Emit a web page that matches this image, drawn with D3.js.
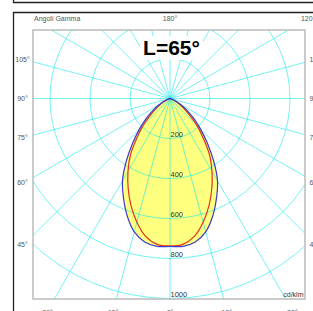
<!DOCTYPE html>
<html>
<head>
<meta charset="utf-8">
<script src="https://cdn.jsdelivr.net/npm/d3@7/dist/d3.min.js"></script>
<style>
    body { margin: 0; background: #fff; }
    svg { display: block; font-family: "Liberation Sans", Arial, sans-serif; }
</style>
</head>
<body>
<div id="chart"></div>
<script>

// gamma angles (deg from nadir) and intensities in cd/klm
var gammaAngles = [0, 5, 10, 15, 20, 25, 30, 35, 40, 45, 50, 55, 60, 65, 70, 75, 80, 85, 90];
var planeBlue = [740, 742, 728, 690, 625, 550, 475, 380, 290, 215, 155, 105, 65, 35, 15, 5, 2, 0, 0];
var planeRed = [737, 732, 700, 640, 570, 495, 420, 345, 258, 190, 125, 80, 50, 25, 10, 3, 0, 0, 0];

var circleValues = [200, 400, 600, 800, 1000];
var spokeAngles = [0, 15, 30, 45, 60, 75, 90, 105, 120, 135, 150, 165,
    180, 195, 210, 225, 240, 255, 270, 285, 300, 315, 330, 345];

var sideLabels = [105, 90, 75, 60, 45];
var bottomLabels = [-30, -15, 0, 15, 30];
var topLabels = [180, 120];

var title = "L=65°";
var unit = "cd/klm";

var W = 313, H = 311;

var plot = {left: 33, top: 30, width: 272, height: 269};
var cx = 170, cy = 98.5;

var r = d3.scaleLinear().domain([0, 1000]).range([0, 200]);

var svg = d3.select("#chart").append("svg")
    .attr("width", W)
    .attr("height", H);

// outer frames
svg.append("path")
    .attr("d", "M13.5,0 V2.5 H313")
    .style("fill", "none")
    .style("stroke", "#222")
    .style("stroke-width", 1.3);

svg.append("path")
    .attr("d", "M13.5,311 V12.5 H313")
    .style("fill", "none")
    .style("stroke", "#222")
    .style("stroke-width", 1.3);

svg.append("clipPath")
    .attr("id", "plotClip")
    .append("rect")
    .attr("x", plot.left)
    .attr("y", plot.top)
    .attr("width", plot.width)
    .attr("height", plot.height);

var clipped = svg.append("g").attr("clip-path", "url(#plotClip)");
var g = clipped.append("g").attr("transform", "translate(" + cx + "," + cy + ")");

function curvePoints(values) {
    var pts = [];
    // right half, from horizontal down to nadir
    for (var i = gammaAngles.length - 1; i >= 0; i--) {
        pts.push({a: Math.PI - gammaAngles[i] * Math.PI / 180, v: values[i]});
    }
    // left half, from nadir up to horizontal
    for (var j = 1; j < gammaAngles.length; j++) {
        pts.push({a: Math.PI + gammaAngles[j] * Math.PI / 180, v: values[j]});
    }
    return pts;
}

var radial = d3.lineRadial()
    .angle(function (d) { return d.a; })
    .radius(function (d) { return r(d.v); })
    .curve(d3.curveCatmullRom);

// yellow fill
g.append("path")
    .attr("d", radial(curvePoints(planeBlue)) + "Z")
    .style("fill", "#ffff80")
    .style("stroke", "none");

// grid
var grid = g.append("g")
    .style("stroke", "#00e8e8")
    .style("stroke-opacity", 0.55)
    .style("stroke-width", 1)
    .style("fill", "none");

grid.selectAll(".circle")
    .data(circleValues)
    .enter()
    .append("circle")
    .attr("class", "circle")
    .attr("r", function (d) { return r(d); });

grid.selectAll(".spoke")
    .data(spokeAngles)
    .enter()
    .append("line")
    .attr("class", "spoke")
    .attr("x1", 0)
    .attr("y1", 0)
    .attr("x2", function (d) { return 400 * Math.sin(d * Math.PI / 180); })
    .attr("y2", function (d) { return 400 * Math.cos(d * Math.PI / 180); });

// curves
g.append("path")
    .attr("d", radial(curvePoints(planeRed)))
    .style("fill", "none")
    .style("stroke", "#e0341c")
    .style("stroke-width", 1.2);

g.append("path")
    .attr("d", radial(curvePoints(planeBlue)))
    .style("fill", "none")
    .style("stroke", "#3c3cc8")
    .style("stroke-width", 1.2);

// circle values
g.selectAll(".cval")
    .data(circleValues)
    .enter()
    .append("text")
    .attr("class", "cval")
    .attr("x", 0.5)
    .attr("y", function (d) { return r(d) - 1.5; })
    .style("font-size", "7.5px")
    .style("fill", "#333")
    .text(function (d) { return d; });

// plot border
svg.append("rect")
    .attr("x", plot.left)
    .attr("y", plot.top)
    .attr("width", plot.width)
    .attr("height", plot.height)
    .style("fill", "none")
    .style("stroke", "#bbb")
    .style("stroke-width", 1.5);

// title with white box behind
var titleBox = svg.append("rect")
    .style("fill", "#fff");

var titleText = svg.append("text")
    .attr("x", 171.5)
    .attr("y", 55)
    .style("font-size", "21px")
    .style("font-weight", "bold")
    .style("text-anchor", "middle")
    .style("fill", "#000")
    .text(title);

var bb = titleText.node().getBBox();
titleBox
    .attr("x", bb.x - 3)
    .attr("y", bb.y)
    .attr("width", bb.width + 6)
    .attr("height", bb.height + 1);

// angle labels
var labels = svg.append("g")
    .style("font-size", "7px")
    .style("fill", "#555");

labels.selectAll(".lside")
    .data(sideLabels)
    .enter()
    .append("text")
    .attr("x", 22.5)
    .attr("y", function (d) { return cy + 146 / Math.tan(d * Math.PI / 180) + 2.4; })
    .style("text-anchor", "middle")
    .text(function (d) { return d + "°"; });

labels.selectAll(".rside")
    .data(sideLabels)
    .enter()
    .append("text")
    .attr("x", 309.5)
    .attr("y", function (d) { return cy + 146 / Math.tan(d * Math.PI / 180) + 2.4; })
    .text(function (d) { return d + "°"; });

labels.selectAll(".bottom")
    .data(bottomLabels)
    .enter()
    .append("text")
    .attr("x", function (d) { return cx + 212 * Math.tan(d * Math.PI / 180); })
    .attr("y", 314.5)
    .style("text-anchor", "middle")
    .text(function (d) { return Math.abs(d) + "°"; });

labels.selectAll(".top")
    .data(topLabels)
    .enter()
    .append("text")
    .attr("x", function (d) { return cx + 79.8 * Math.tan((180 - d) * Math.PI / 180); })
    .attr("y", 21)
    .style("text-anchor", "middle")
    .text(function (d) { return d + "°"; });

labels.append("text")
    .attr("x", 34)
    .attr("y", 21)
    .text("Angoli Gamma");

labels.append("text")
    .attr("x", 303.5)
    .attr("y", 297)
    .style("text-anchor", "end")
    .style("fill", "#333")
    .text(unit);

</script>
</body>
</html>
